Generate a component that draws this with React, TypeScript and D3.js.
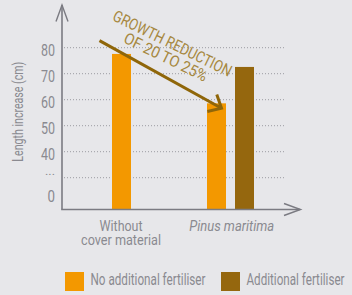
import React, { useLayoutEffect, useRef, useState } from "react";
import * as d3 from "d3";

const categories = ["Without cover material", "Pinus maritima"];
const categoryLines = [["Without", "cover material"], ["Pinus maritima"]];
const noFertiliser = [77.6, 58.6];
const fertiliser: (number | null)[] = [null, 72.6];
const tickValues = [80, 70, 60, 50, 40, 30, 23.6];
const tickLabels = ["80", "70", "60", "50", "40", "...", "0"];
const gridValues = [80, 70, 60, 50, 40, 30];
const seriesNames = ["No additional fertiliser", "Additional fertiliser"];

const W = 352;
const H = 295;
const BG = "#e7e7ea";
const ORANGE = "#f39800";
const BROWN = "#95670e";
const GRAY = "#8a8a90";
const AXIS = "#7b7b82";
const FONT = "Roboto, 'Liberation Sans', sans-serif";

type CTProps = {
  x: number;
  y: number;
  width: number;
  anchor?: "start" | "middle" | "end";
  fontSize: number;
  fill: string;
  italic?: boolean;
  children: string;
};

function CondText({ x, y, width, anchor = "start", fontSize, fill, italic, children }: CTProps) {
  const ref = useRef<SVGTextElement>(null);
  const [s, setS] = useState(0.7);
  useLayoutEffect(() => {
    if (ref.current) {
      const w = ref.current.getComputedTextLength();
      if (w > 0) setS(width / w);
    }
  }, [width, children, fontSize]);
  return (
    <text
      ref={ref}
      transform={`translate(${x},${y}) scale(${s},1)`}
      textAnchor={anchor}
      fontSize={fontSize}
      fill={fill}
      fontStyle={italic ? "italic" : "normal"}
    >
      {children}
    </text>
  );
}

export default function App() {
  const y = d3.scaleLinear().domain([17.96, 80]).range([209, 47.7]);
  const x = d3.scalePoint<string>().domain(categories).range([121.5, 230.5]);
  const barW = 19;
  const half = 14;

  const bars: { x: number; v: number; c: string }[] = [];
  categories.forEach((cat, i) => {
    const cx = x(cat)!;
    const f = fertiliser[i];
    if (f == null) {
      bars.push({ x: cx - barW / 2, v: noFertiliser[i], c: ORANGE });
    } else {
      bars.push({ x: cx - half - barW / 2, v: noFertiliser[i], c: ORANGE });
      bars.push({ x: cx + half - barW / 2, v: f, c: BROWN });
    }
  });

  // annotation arrow
  const x0 = x(categories[0])! - 22;
  const y0 = y(82.7);
  const x1 = x(categories[1])! - half + 5;
  const y1 = y(56.7);
  const ang = Math.atan2(y1 - y0, x1 - x0);
  const armL = 14.5;
  const a1 = ang + Math.PI - (42 * Math.PI) / 180;
  const a2 = ang + Math.PI + (42 * Math.PI) / 180;
  const arrowPath = d3.path();
  arrowPath.moveTo(x0, y0);
  arrowPath.lineTo(x1, y1);
  const headPath = d3.path();
  headPath.moveTo(x1 + armL * Math.cos(a1), y1 + armL * Math.sin(a1));
  headPath.lineTo(x1, y1);
  headPath.lineTo(x1 + armL * Math.cos(a2), y1 + armL * Math.sin(a2));

  const legendX = [65, 221];
  const legendTextW = [115, 98];

  return (
    <svg
      width={W}
      height={H}
      style={{ position: "absolute", left: 0, top: 0, background: BG }}
      fontFamily={FONT}
    >
      <rect x={0} y={0} width={W} height={H} fill={BG} />
      {/* grid */}
      {gridValues.map((v) => (
        <line
          key={v}
          x1={64}
          x2={285}
          y1={y(v)}
          y2={y(v)}
          stroke="#9c9ca2"
          strokeWidth={1}
          strokeDasharray="1,2"
        />
      ))}
      {/* bars */}
      {bars.map((b, i) => (
        <rect key={i} x={b.x} y={y(b.v)} width={barW} height={y.range()[0] - y(b.v)} fill={b.c} />
      ))}
      {/* axes */}
      <line x1={62} x2={62} y1={5} y2={209.5} stroke={AXIS} strokeWidth={1.6} />
      <path d="M56,21.5 L62,5 L68,21.5" fill="none" stroke={AXIS} strokeWidth={1.4} />
      <line x1={61.2} x2={300} y1={209.5} y2={209.5} stroke={AXIS} strokeWidth={1.6} />
      <path d="M284,203.5 L300.5,209.5 L284,215.5" fill="none" stroke={AXIS} strokeWidth={1.4} />
      {/* tick labels */}
      {tickValues.map((v, i) => (
        <CondText
          key={i}
          x={55}
          y={tickLabels[i] === "..." ? y(v) - 2.5 : y(v) + 8}
          anchor="end"
          fontSize={tickLabels[i] === "..." ? 11 : 16}
          fill={GRAY}
          width={tickLabels[i] === "..." ? 10 : tickLabels[i].length === 2 ? 14 : 7.5}
        >
          {tickLabels[i]}
        </CondText>
      ))}
      {/* y title */}
      <g transform="translate(18,111.7) rotate(-90)">
        <CondText x={0} y={5} anchor="middle" fontSize={15} fill={GRAY} width={100}>
          Length increase (cm)
        </CondText>
      </g>
      {/* category labels */}
      {categoryLines.map((lines, i) =>
        lines.map((ln, j) => (
          <CondText
            key={`${i}-${j}`}
            x={i === 0 ? 121 : 231.7}
            y={230.7 + j * 14.5}
            anchor="middle"
            fontSize={15.5}
            fill={GRAY}
            italic={i === 1}
            width={i === 1 ? 85 : j === 0 ? 43 : 80}
          >
            {ln}
          </CondText>
        ))
      )}
      {/* annotation */}
      <path d={arrowPath.toString()} stroke="#8f6609" strokeWidth={3} fill="none" />
      <path d={headPath.toString()} stroke="#8f6609" strokeWidth={3} fill="none" strokeLinejoin="miter" />
      <g transform="translate(170,48.3) rotate(26)">
        <CondText x={0} y={0} anchor="middle" fontSize={16} fill="#a68840" width={130}>
          GROWTH REDUCTION
        </CondText>
        <CondText x={0} y={15.3} anchor="middle" fontSize={16} fill="#a68840" width={91}>
          OF 20 TO 25%
        </CondText>
      </g>
      {/* legend */}
      {seriesNames.map((s, i) => (
        <g key={s}>
          <rect x={legendX[i]} y={272} width={19} height={19} fill={i === 0 ? ORANGE : BROWN} />
          <CondText x={legendX[i] + 25.5} y={285} fontSize={16} fill={GRAY} width={legendTextW[i]}>
            {s}
          </CondText>
        </g>
      ))}
    </svg>
  );
}
